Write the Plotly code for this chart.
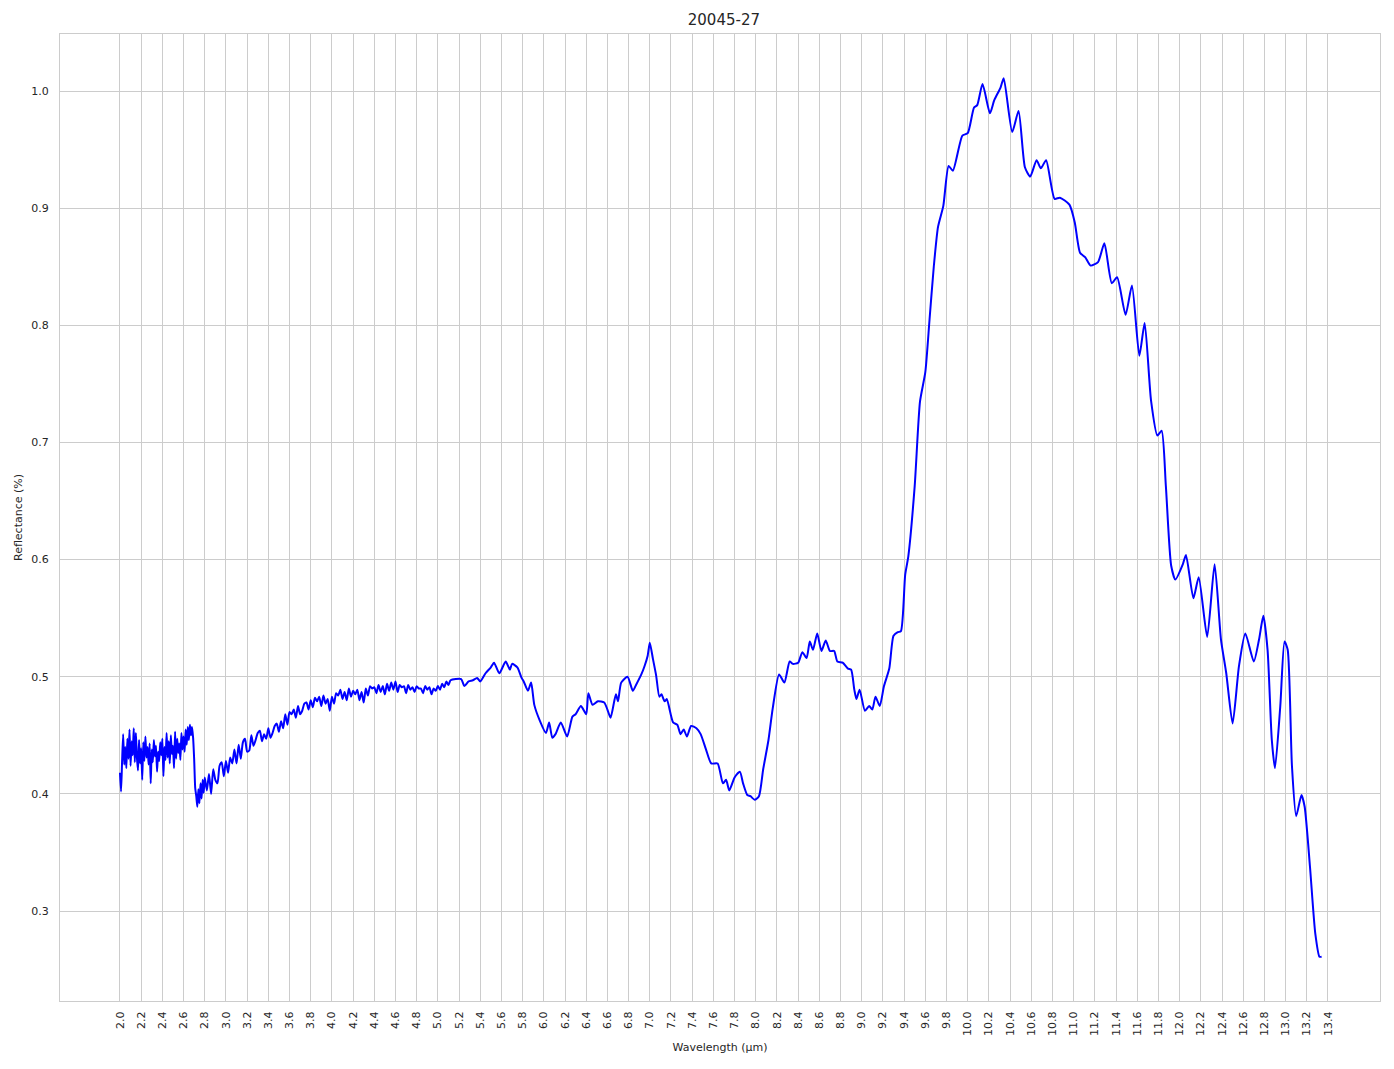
import plotly.graph_objects as go

# Noisy start region, 2.00-2.80 step 0.01
wl_a = [round(2.00 + 0.01 * i, 2) for i in range(81)]
refl_a = [0.418, 0.402, 0.428, 0.451, 0.425, 0.440, 0.422, 0.447, 0.430, 0.455,
          0.424, 0.445, 0.433, 0.456, 0.427, 0.452, 0.431, 0.420, 0.446, 0.426,
          0.439, 0.412, 0.444, 0.428, 0.449, 0.431, 0.440, 0.425, 0.443, 0.409,
          0.438, 0.427, 0.446, 0.432, 0.441, 0.419, 0.436, 0.428, 0.444, 0.433,
          0.447, 0.415, 0.440, 0.429, 0.452, 0.431, 0.445, 0.426, 0.450, 0.434,
          0.441, 0.422, 0.453, 0.430, 0.447, 0.435, 0.443, 0.429, 0.452, 0.438,
          0.449, 0.436, 0.455, 0.442, 0.457, 0.446, 0.459, 0.450, 0.457, 0.448,
          0.430, 0.405, 0.398, 0.389, 0.404, 0.392, 0.409, 0.396, 0.412, 0.401,
          0.414]

# Rising noisy region, 2.82-5.12 step 0.02
wl_b = [round(2.82 + 0.02 * i, 2) for i in range(116)]
refl_b = [0.403, 0.417, 0.400, 0.421, 0.412, 0.409, 0.424, 0.427, 0.415, 0.428,
          0.418, 0.431, 0.426, 0.438, 0.426, 0.442, 0.430, 0.444, 0.447, 0.436,
          0.437, 0.450, 0.441, 0.446, 0.452, 0.454, 0.445, 0.451, 0.447, 0.456,
          0.448, 0.452, 0.458, 0.460, 0.453, 0.462, 0.456, 0.468, 0.459, 0.470,
          0.468, 0.472, 0.465, 0.475, 0.468, 0.471, 0.477, 0.478, 0.472, 0.480,
          0.474, 0.482, 0.479, 0.483, 0.475, 0.484, 0.477, 0.481, 0.471, 0.483,
          0.477, 0.486, 0.484, 0.489, 0.481, 0.487, 0.480, 0.490, 0.483, 0.488,
          0.485, 0.489, 0.480, 0.487, 0.478, 0.490, 0.484, 0.492, 0.490, 0.491,
          0.486, 0.493, 0.487, 0.492, 0.485, 0.494, 0.488, 0.495, 0.489, 0.496,
          0.487, 0.493, 0.491, 0.492, 0.486, 0.493, 0.489, 0.491, 0.487, 0.492,
          0.490, 0.490, 0.486, 0.492, 0.489, 0.491, 0.485, 0.490, 0.488, 0.492,
          0.489, 0.494, 0.491, 0.496, 0.493, 0.497]

# Mid spectrum, irregular sampling
wl_c = [5.22, 5.25, 5.29, 5.33, 5.37, 5.40, 5.45, 5.50, 5.53, 5.58, 5.64, 5.68,
        5.70, 5.75, 5.79, 5.81, 5.85, 5.88, 5.91, 5.96, 6.02, 6.05, 6.08, 6.11,
        6.16, 6.22, 6.27, 6.30, 6.35, 6.40, 6.42, 6.46, 6.51, 6.57, 6.60, 6.63,
        6.68, 6.70, 6.73, 6.79, 6.84, 6.87, 6.92, 6.95, 6.98, 7.00, 7.03, 7.06,
        7.09, 7.11, 7.14, 7.16, 7.22, 7.26, 7.29, 7.32, 7.35, 7.39, 7.44, 7.48,
        7.53, 7.58, 7.64, 7.69, 7.72, 7.75, 7.80, 7.85, 7.88, 7.92, 7.95, 7.99,
        8.03, 8.07, 8.12, 8.16, 8.22, 8.27, 8.32, 8.35, 8.40, 8.44, 8.48, 8.51,
        8.54, 8.58, 8.62, 8.66, 8.70, 8.74, 8.77, 8.82, 8.87, 8.90, 8.93, 8.95,
        8.98, 9.03, 9.07, 9.10, 9.13, 9.17, 9.21, 9.26, 9.30, 9.34, 9.37]
refl_c = [0.498, 0.492, 0.496, 0.497, 0.499, 0.496, 0.503, 0.508, 0.512, 0.503,
          0.513, 0.506, 0.511, 0.508, 0.499, 0.496, 0.488, 0.495, 0.476, 0.463,
          0.452, 0.461, 0.448, 0.451, 0.461, 0.449, 0.466, 0.468, 0.475, 0.468,
          0.486, 0.476, 0.479, 0.478, 0.472, 0.465, 0.485, 0.479, 0.495, 0.500,
          0.488, 0.493, 0.502, 0.509, 0.518, 0.529, 0.515, 0.501, 0.483, 0.485,
          0.479, 0.481, 0.461, 0.459, 0.451, 0.455, 0.449, 0.458, 0.456, 0.451,
          0.438, 0.426, 0.426, 0.409, 0.412, 0.403, 0.414, 0.419, 0.409, 0.399,
          0.398, 0.395, 0.398, 0.421, 0.446, 0.473, 0.502, 0.495, 0.513, 0.511,
          0.512, 0.521, 0.516, 0.530, 0.523, 0.537, 0.522, 0.531, 0.522, 0.522,
          0.513, 0.512, 0.507, 0.506, 0.489, 0.481, 0.489, 0.471, 0.475, 0.472,
          0.483, 0.475, 0.492, 0.507, 0.535, 0.538, 0.539]

# Main reflectance band and tail
wl_d = [9.41, 9.44, 9.50, 9.55, 9.60, 9.64, 9.68, 9.72, 9.77, 9.82, 9.86, 9.95,
        10.00, 10.06, 10.09, 10.14, 10.21, 10.25, 10.31, 10.34, 10.42, 10.48,
        10.54, 10.59, 10.65, 10.69, 10.74, 10.82, 10.87, 10.96, 11.01, 11.06,
        11.11, 11.16, 11.23, 11.29, 11.36, 11.41, 11.49, 11.55, 11.62, 11.67,
        11.73, 11.79, 11.83, 11.87, 11.92, 11.96, 12.03, 12.06, 12.13, 12.18,
        12.26, 12.33, 12.39, 12.44, 12.50, 12.56, 12.62, 12.70, 12.75, 12.79,
        12.83, 12.87, 12.90, 12.95, 12.99, 13.02, 13.06, 13.10, 13.15, 13.18,
        13.23, 13.28, 13.32, 13.34]
refl_d = [0.587, 0.603, 0.663, 0.735, 0.760, 0.805, 0.850, 0.884, 0.902, 0.936,
          0.932, 0.962, 0.964, 0.986, 0.988, 1.006, 0.981, 0.992, 1.003, 1.011,
          0.965, 0.983, 0.935, 0.927, 0.941, 0.934, 0.941, 0.908, 0.909, 0.903,
          0.888, 0.862, 0.858, 0.851, 0.854, 0.870, 0.836, 0.841, 0.809, 0.834,
          0.774, 0.802, 0.736, 0.706, 0.710, 0.663, 0.595, 0.583, 0.596, 0.604,
          0.567, 0.585, 0.534, 0.596, 0.532, 0.503, 0.460, 0.509, 0.537, 0.513,
          0.532, 0.552, 0.523, 0.446, 0.422, 0.475, 0.530, 0.523, 0.424, 0.381,
          0.399, 0.389, 0.338, 0.281, 0.261, 0.261]

wavelength = wl_a + wl_b + wl_c + wl_d
reflectance = refl_a + refl_b + refl_c + refl_d

x_ticks = [round(2.0 + 0.2 * i, 1) for i in range(58)]
x_tick_labels = [f"{v:.1f}" for v in x_ticks]
y_ticks = [0.3, 0.4, 0.5, 0.6, 0.7, 0.8, 0.9, 1.0]
y_tick_labels = [f"{v:.1f}" for v in y_ticks]

fig = go.Figure()
fig.add_trace(go.Scatter(
    x=wavelength, y=reflectance, mode="lines",
    line=dict(color="#0000ff", width=2, shape="spline", smoothing=0.6),
    showlegend=False,
))

font_family = "DejaVu Sans, Arial, sans-serif"
fig.update_layout(
    width=1386, height=1061,
    paper_bgcolor="white", plot_bgcolor="white",
    margin=dict(l=52, r=14, t=26, b=68, autoexpand=False),
    title=dict(text="20045-27", x=0.5165, xanchor="center", y=0.9885, yanchor="middle",
               font=dict(family=font_family, size=15, color="#262626")),
    font=dict(family=font_family, color="#262626"),
)
fig.update_xaxes(
    range=[1.434, 13.891], tickmode="array", tickvals=x_ticks, ticktext=x_tick_labels,
    tickangle=-90, tickfont=dict(size=11, color="#262626"),
    showgrid=True, gridcolor="#cccccc", gridwidth=1,
    zeroline=False, showline=True, linecolor="#cccccc", linewidth=1, mirror=True,
    ticks="outside", ticklen=5, tickcolor="rgba(0,0,0,0)",
    title=dict(text="Wavelength (µm)", font=dict(size=11, color="#262626"), standoff=8),
)
fig.update_yaxes(
    range=[0.2232, 1.0487], tickmode="array", tickvals=y_ticks, ticktext=y_tick_labels,
    tickfont=dict(size=11, color="#262626"),
    showgrid=True, gridcolor="#cccccc", gridwidth=1,
    zeroline=False, showline=True, linecolor="#cccccc", linewidth=1, mirror=True,
    ticks="outside", ticklen=8, tickcolor="rgba(0,0,0,0)",
    title=dict(text="Reflectance (%)", font=dict(size=11, color="#262626"), standoff=6),
)

fig.write_html("out.html")
